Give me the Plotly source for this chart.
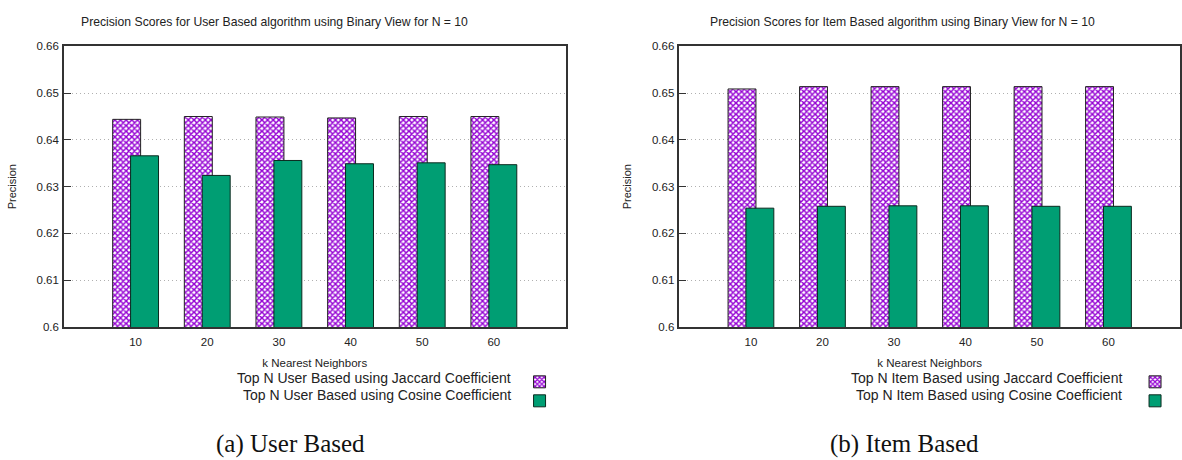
import plotly.graph_objects as go

# k nearest neighbour settings on the x axis
k_labels = ["10", "20", "30", "40", "50", "60"]

# precision scores, user based top-N recommendation
user_jaccard = [0.6444, 0.6450, 0.6449, 0.6447, 0.6450, 0.6450]
user_cosine = [0.6366, 0.6324, 0.6356, 0.6349, 0.6351, 0.6347]

# precision scores, item based top-N recommendation
item_jaccard = [0.6509, 0.6514, 0.6514, 0.6514, 0.6514, 0.6514]
item_cosine = [0.6254, 0.6258, 0.6259, 0.6259, 0.6258, 0.6258]

y_tickvals = [0.6, 0.61, 0.62, 0.63, 0.64, 0.65, 0.66]
y_ticktext = ["0.6", "0.61", "0.62", "0.63", "0.64", "0.65", "0.66"]

W, H = 1182, 460
SANS = "Liberation Sans, Arial, sans-serif"
SERIF = "Liberation Serif, Times New Roman, serif"
PURPLE = "#9400d3"
GREEN = "#009e73"

BAR_W = 0.39
JAC_OFF = -0.32
COS_OFF = -0.07


def px_x(p):
    return p / W


def px_y(p):
    return 1 - p / H


fig = go.Figure()

panels = [
    dict(xa="x", ya="y", leg="legend", jac=user_jaccard, cos=user_cosine,
         jname="Top N User Based using Jaccard Coefficient",
         cname="Top N User Based using Cosine Coefficient"),
    dict(xa="x2", ya="y2", leg="legend2", jac=item_jaccard, cos=item_cosine,
         jname="Top N Item Based using Jaccard Coefficient",
         cname="Top N Item Based using Cosine Coefficient"),
]

for p in panels:
    fig.add_trace(go.Bar(
        x=k_labels, y=p["jac"], xaxis=p["xa"], yaxis=p["ya"],
        width=BAR_W, offset=JAC_OFF, base=0,
        name="", hovertext=p["jname"], legend=p["leg"],
        marker=dict(color="white", line=dict(color="#222", width=1),
                    pattern=dict(shape="x", fgcolor=PURPLE, bgcolor="white",
                                 size=4, solidity=0.6, fillmode="replace")),
    ))
    fig.add_trace(go.Bar(
        x=k_labels, y=p["cos"], xaxis=p["xa"], yaxis=p["ya"],
        width=BAR_W, offset=COS_OFF, base=0,
        name="", hovertext=p["cname"], legend=p["leg"],
        marker=dict(color=GREEN, line=dict(color="#0b2a1f", width=1)),
    ))

y_top, y_bot = 41.5, 329.5
ydom = [px_y(y_bot), px_y(y_top)]

axis_common = dict(showline=True, mirror=True, linecolor="#333", linewidth=1.5)

x_common = dict(type="category", range=[-1, 6], ticks="", showgrid=False,
                tickfont=dict(size=11.5), ticklabelstandoff=4,
                title=dict(text="k Nearest Neighbors", font=dict(size=11.5), standoff=11),
                **axis_common)
y_common = dict(domain=ydom, range=[0.6, 0.66], tickvals=y_tickvals, ticktext=y_ticktext,
                ticks="inside", ticklen=7, tickcolor="#333", tickfont=dict(size=11.5),
                ticklabelstandoff=1,
                showgrid=True, gridcolor="#b0b0b0", griddash="1px,3px", gridwidth=1,
                title=dict(text="Precision", font=dict(size=11), standoff=18),
                zeroline=False, **axis_common)

fig.update_layout(
    width=W, height=H, margin=dict(l=0, r=0, t=0, b=0),
    paper_bgcolor="white", plot_bgcolor="white",
    barmode="overlay", showlegend=True,
    font=dict(family=SANS, color="#222"),
    xaxis=dict(domain=[px_x(64), px_x(566)], **x_common),
    yaxis=y_common,
    xaxis2=dict(domain=[px_x(680), px_x(1181)], anchor="y2", **x_common),
    yaxis2=dict(anchor="x2", **y_common),
    legend=dict(x=px_x(520), y=px_y(371), xanchor="left", yanchor="top",
                bgcolor="rgba(0,0,0,0)", font=dict(size=11), tracegroupgap=0,
                traceorder="normal"),
    legend2=dict(x=px_x(1136), y=px_y(371), xanchor="left", yanchor="top",
                 bgcolor="rgba(0,0,0,0)", font=dict(size=11), tracegroupgap=0,
                 traceorder="normal"),
)

annotations = [
    dict(text="Precision Scores for User Based algorithm using Binary View for N = 10",
         x=px_x(275), y=px_y(16), font=dict(size=12.2)),
    dict(text="Precision Scores for Item Based algorithm using Binary View for N = 10",
         x=px_x(903), y=px_y(16), font=dict(size=12.2)),
    dict(text="Top N User Based using Jaccard Coefficient", x=px_x(513), y=px_y(382),
         xanchor="right", font=dict(size=14)),
    dict(text="Top N User Based using Cosine Coefficient", x=px_x(513), y=px_y(399.5),
         xanchor="right", font=dict(size=14)),
    dict(text="Top N Item Based using Jaccard Coefficient", x=px_x(1125), y=px_y(382),
         xanchor="right", font=dict(size=14)),
    dict(text="Top N Item Based using Cosine Coefficient", x=px_x(1125), y=px_y(399.5),
         xanchor="right", font=dict(size=14)),
    dict(text="(a) User Based", x=px_x(291), y=px_y(450),
         font=dict(size=25, family=SERIF, color="#111")),
    dict(text="(b) Item Based", x=px_x(905), y=px_y(450),
         font=dict(size=25, family=SERIF, color="#111")),
]
for a in annotations:
    a.update(xref="paper", yref="paper", showarrow=False)
    a.setdefault("xanchor", "center")
    a.setdefault("yanchor", "middle")
fig.update_layout(annotations=annotations)

fig.write_html("out.html")
